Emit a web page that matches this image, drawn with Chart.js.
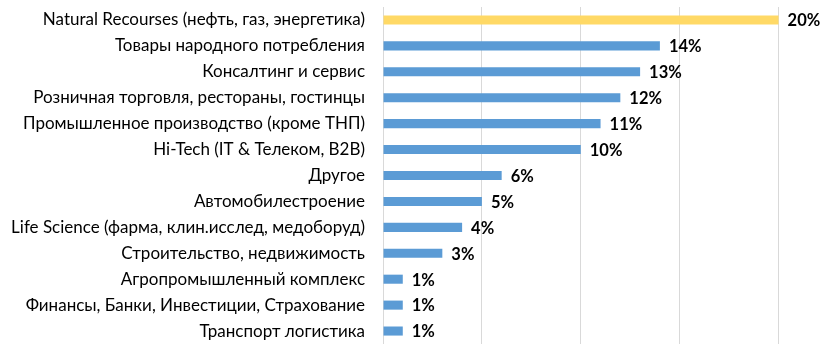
<!DOCTYPE html>
<html>
<head>
<meta charset="utf-8">
<script src="https://cdn.jsdelivr.net/npm/chart.js@4.4.1/dist/chart.umd.min.js"></script>
<style>
  html, body { margin: 0; padding: 0; background: #fff; }
  #wrap { width: 840px; height: 351px; }
</style>
</head>
<body>
<div id="wrap"><canvas id="c" width="840" height="351"></canvas></div>
<script>
const categories = [
  'Natural Recourses (нефть, газ, энергетика)',
  'Товары народного потребления',
  'Консалтинг и сервис',
  'Розничная торговля, рестораны, гостинцы',
  'Промышленное производство (кроме ТНП)',
  'Hi-Tech (IT & Телеком, B2B)',
  'Другое',
  'Автомобилестроение',
  'Life Science (фарма, клин.исслед, медоборуд)',
  'Строительство, недвижимость',
  'Агропромышленный комплекс',
  'Финансы, Банки, Инвестиции, Страхование',
  'Транспорт логистика'
];
const shares = [20, 14, 13, 12, 11, 10, 6, 5, 4, 3, 1, 1, 1];
const labelsText = ['20%', '14%', '13%', '12%', '11%', '10%', '6%', '5%', '4%', '3%', '1%', '1%', '1%'];
const highlight = [true, false, false, false, false, false, false, false, false, false, false, false, false];

const FONT = 'Lato';

// value labels drawn right after each bar
const valueLabels = {
  id: 'valueLabels',
  afterDatasetsDraw(chart) {
    const ctx = chart.ctx;
    const meta = chart.getDatasetMeta(0);
    ctx.save();
    ctx.font = 'bold 16.5px ' + FONT;
    ctx.fillStyle = '#000';
    ctx.textBaseline = 'middle';
    ctx.textAlign = 'left';
    meta.data.forEach((bar, i) => {
      ctx.fillText(labelsText[i], bar.x + 9, bar.y + 1);
    });
    ctx.restore();
  }
};

new Chart(document.getElementById('c'), {
  type: 'bar',
  data: {
    labels: categories,
    datasets: [{
      data: shares,
      backgroundColor: highlight.map(h => h ? '#FFD966' : '#5B9BD5'),
      barPercentage: 0.7,
      categoryPercentage: 0.5
    }]
  },
  options: {
    indexAxis: 'y',
    responsive: false,
    animation: false,
    layout: { padding: { top: 7, bottom: 7, right: 12, left: 0 } },
    plugins: { legend: { display: false }, tooltip: { enabled: false } },
    scales: {
      x: {
        min: 0,
        max: 22.5,
        ticks: { display: false, stepSize: 5 },
        afterBuildTicks: axis => { axis.ticks = axis.ticks.filter(t => t.value % 5 === 0); },
        afterFit: scale => { scale.height = 0; scale.paddingLeft = 0; scale.paddingRight = 0; },
        grid: { color: '#D9D9D9', lineWidth: 1, drawTicks: false },
        border: { display: false }
      },
      y: {
        afterFit: scale => { scale.width = 383; scale.paddingTop = 0; scale.paddingBottom = 0; },
        grid: { display: false },
        border: { display: false },
        ticks: {
          padding: 10,
          color: '#000',
          font: { family: FONT, size: 17 }
        }
      }
    }
  },
  plugins: [valueLabels]
});
</script>
</body>
</html>
